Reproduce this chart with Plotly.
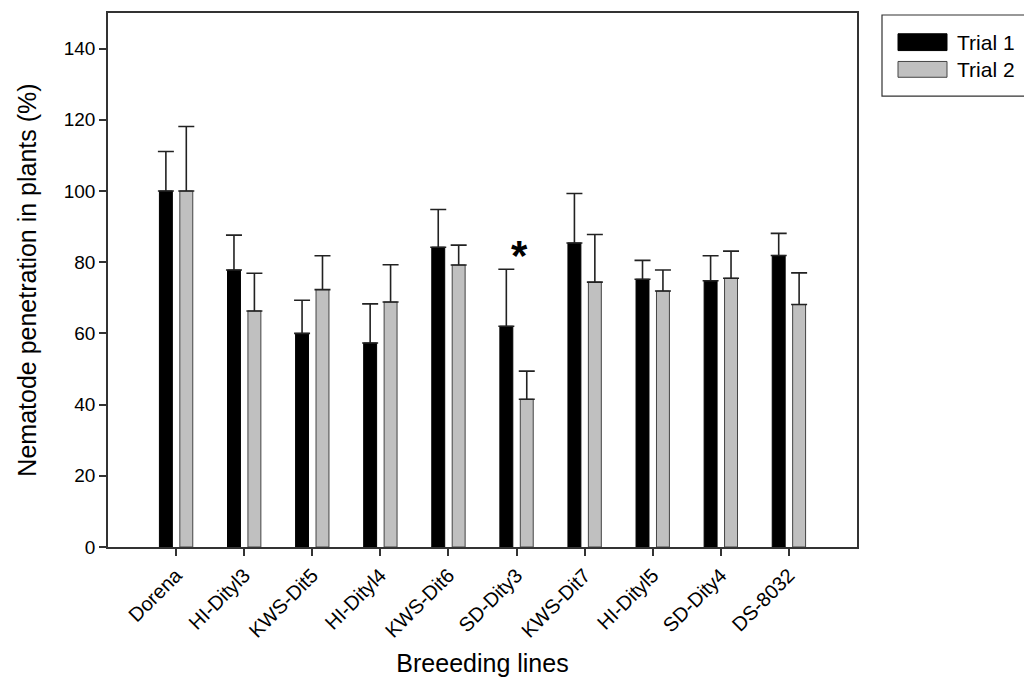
import plotly.graph_objects as go

categories = ["Dorena", "HI-Dityl3", "KWS-Dit5", "HI-Dityl4", "KWS-Dit6",
              "SD-Dity3", "KWS-Dit7", "HI-Dityl5", "SD-Dity4", "DS-8032"]
trial1 = [100.0, 77.8, 60.0, 57.3, 84.2, 62.0, 85.4, 75.2, 74.8, 81.9]
trial1_err = [11.1, 9.8, 9.3, 11.0, 10.6, 16.0, 13.9, 5.3, 7.0, 6.2]
trial2 = [100.0, 66.3, 72.3, 68.8, 79.2, 41.5, 74.4, 71.9, 75.5, 68.1]
trial2_err = [18.1, 10.6, 9.5, 10.5, 5.6, 7.9, 13.4, 5.9, 7.6, 8.9]
y_ticks = [0, 20, 40, 60, 80, 100, 120, 140]

FONT = "Liberation Sans, Arial, sans-serif"
idx = list(range(len(categories)))

fig = go.Figure()
fig.add_trace(go.Bar(
    x=[i - 0.15 for i in idx], y=trial1, width=0.19, name="Trial 1",
    marker=dict(color="black", line=dict(color="black", width=1)),
    error_y=dict(type="data", array=trial1_err, arrayminus=[0] * len(idx),
                 symmetric=False, width=8, thickness=1.6, color="#222222"),
    showlegend=False,
))
fig.add_trace(go.Bar(
    x=[i + 0.15 for i in idx], y=trial2, width=0.19, name="Trial 2",
    marker=dict(color="#C0C0C0", line=dict(color="#444444", width=1)),
    error_y=dict(type="data", array=trial2_err, arrayminus=[0] * len(idx),
                 symmetric=False, width=8, thickness=1.6, color="#222222"),
    showlegend=False,
))

# significance marker
fig.add_annotation(x=5.04, y=82, xref="x", yref="y", text="<b>*</b>",
                   showarrow=False, font=dict(family=FONT, size=42, color="black"),
                   yanchor="middle")

# manual legend
fig.add_shape(type="rect", xref="paper", yref="paper",
              x0=(882 - 108) / 749, x1=(1030 - 108) / 749,
              y0=(551 - 95) / 540, y1=(551 - 13) / 540,
              line=dict(color="#333333", width=1.2), fillcolor="white")
legend_items = [("Trial 1", "black", "black", 32, 49), ("Trial 2", "#C0C0C0", "#444444", 60, 76)]
for label, fill, edge, top, bot in legend_items:
    fig.add_shape(type="rect", xref="paper", yref="paper",
                  x0=(898 - 108) / 749, x1=(947 - 108) / 749,
                  y0=(551 - bot) / 540, y1=(551 - top) / 540,
                  line=dict(color=edge, width=1), fillcolor=fill)
    fig.add_annotation(xref="paper", yref="paper", x=(955 - 108) / 749,
                       y=(551 - (top + bot) / 2) / 540, text=label, showarrow=False,
                       xanchor="left", yanchor="middle",
                       font=dict(family=FONT, size=21, color="black"))

fig.update_layout(
    width=1024, height=684,
    margin=dict(l=108, r=167, t=11, b=133),
    paper_bgcolor="white", plot_bgcolor="white",
    barmode="overlay",
    font=dict(family=FONT, size=19, color="black"),
)
fig.update_xaxes(
    range=[-1, 10], tickvals=idx, ticktext=categories, tickangle=-45,
    ticks="outside", ticklen=7, tickwidth=1.5, tickcolor="#333333",
    showline=True, linecolor="#333333", linewidth=1.5, mirror=True,
    showgrid=False, zeroline=False,
    tickfont=dict(family=FONT, size=20, color="black"),
    title=dict(text="Breeeding lines", font=dict(family=FONT, size=25, color="black"), standoff=14),
)
fig.update_yaxes(
    range=[0, 150], tickvals=y_ticks,
    ticks="outside", ticklen=7, tickwidth=1.5, tickcolor="#333333",
    showline=True, linecolor="#333333", linewidth=1.5, mirror=True,
    showgrid=False, zeroline=False,
    tickfont=dict(family=FONT, size=19, color="black"),
    title=dict(text="Nematode penetration in plants (%)", font=dict(family=FONT, size=25, color="black"), standoff=20),
)

fig.write_html("out.html")
